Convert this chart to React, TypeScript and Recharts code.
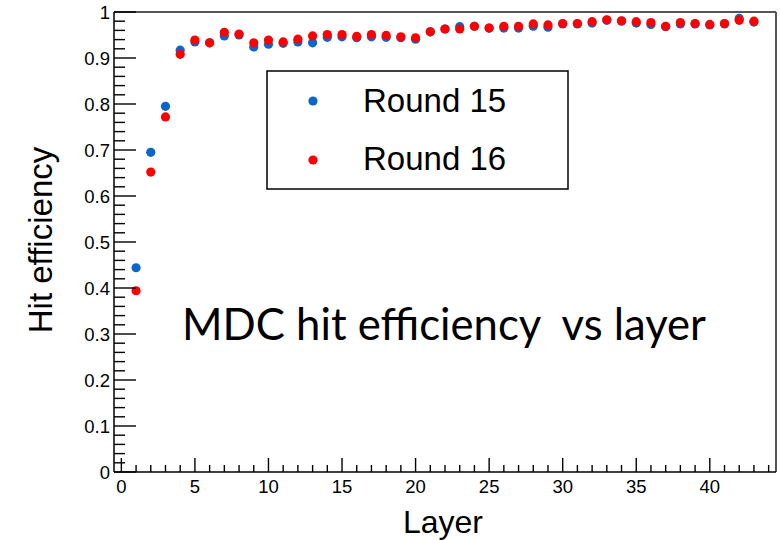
import React from 'react';
import { ScatterChart, Scatter, XAxis, YAxis, ReferenceLine } from 'recharts';

// ---- data ----
const layers = [1, 2, 3, 4, 5, 6, 7, 8, 9, 10, 11, 12, 13, 14, 15, 16, 17, 18, 19, 20, 21, 22, 23, 24, 25, 26, 27, 28, 29, 30, 31, 32, 33, 34, 35, 36, 37, 38, 39, 40, 41, 42, 43];
const round15 = [0.444, 0.695, 0.795, 0.917, 0.935, 0.933, 0.948, 0.95, 0.924, 0.93, 0.932, 0.935, 0.933, 0.945, 0.946, 0.944, 0.946, 0.945, 0.944, 0.941, 0.957, 0.963, 0.968, 0.969, 0.965, 0.965, 0.965, 0.969, 0.967, 0.974, 0.974, 0.976, 0.982, 0.98, 0.976, 0.973, 0.968, 0.974, 0.974, 0.972, 0.974, 0.986, 0.978];
const round16 = [0.394, 0.652, 0.772, 0.908, 0.939, 0.933, 0.956, 0.952, 0.933, 0.939, 0.935, 0.941, 0.948, 0.951, 0.951, 0.947, 0.951, 0.949, 0.946, 0.944, 0.957, 0.963, 0.963, 0.969, 0.965, 0.969, 0.969, 0.974, 0.972, 0.975, 0.975, 0.979, 0.983, 0.981, 0.979, 0.977, 0.969, 0.977, 0.975, 0.973, 0.975, 0.982, 0.98];
const seriesNames = ['Round 15', 'Round 16'];
const xTickLabels = [0, 5, 10, 15, 20, 25, 30, 35, 40];
const yTickLabels = [0, 0.1, 0.2, 0.3, 0.4, 0.5, 0.6, 0.7, 0.8, 0.9, 1];
const xTitle = 'Layer';
const yTitle = 'Hit efficiency';
const annotation = 'MDC hit efficiency  vs layer';

// ---- layout ----
const W = 780;
const H = 540;
const PLOT_L = 114;
const PLOT_T = 12;
const PLOT_B = 472;
const X_DOMAIN: [number, number] = [-0.5, 44.5];
const Y_DOMAIN: [number, number] = [0, 1];
const BLUE = '#0a66cc';
const RED = '#ff0000';
const FONT = '"Liberation Sans", Arial, Helvetica, sans-serif';

const xAllTicks = Array.from({ length: 45 }, (_, i) => i);
const yAllTicks = Array.from({ length: 51 }, (_, i) => Number((i * 0.02).toFixed(2)));

const data15 = layers.map((l, i) => ({ layer: l, eff: round15[i] }));
const data16 = layers.map((l, i) => ({ layer: l, eff: round16[i] }));

const isMajorX = (v: number) => xTickLabels.includes(v);
const isMajorY = (v: number) => yTickLabels.some((t) => Math.abs(t - v) < 1e-6);

const XTick = (props: any) => {
  const { x, payload } = props;
  const v = payload.value;
  const major = isMajorX(v);
  return (
    <g>
      <line x1={x} x2={x} y1={PLOT_B} y2={PLOT_B - (major ? 14 : 7)} stroke="#000" strokeWidth={1.4} />
      {major && (
        <text x={x} y={493} textAnchor="middle" fontFamily={FONT} fontSize={18.5} fill="#000">
          {String(v)}
        </text>
      )}
    </g>
  );
};

const YTick = (props: any) => {
  const { y, payload } = props;
  const v = payload.value;
  const major = isMajorY(v);
  return (
    <g>
      <line x1={PLOT_L} x2={PLOT_L + (major ? 22 : 11)} y1={y} y2={y} stroke="#000" strokeWidth={1.4} />
      {major && (
        <text x={110} y={y} dy={6.5} textAnchor="end" fontFamily={FONT} fontSize={18.5} fill="#000">
          {String(Number(v.toFixed(1)))}
        </text>
      )}
    </g>
  );
};

const dot = (color: string) => (props: any) => (
  <circle cx={props.cx} cy={props.cy} r={4.6} fill={color} />
);

export default function App() {
  return (
    <div style={{ position: 'absolute', left: 0, top: 0, width: W, height: H, background: '#fff' }}>
      <ScatterChart width={W} height={H} margin={{ top: PLOT_T, right: 4, left: 0, bottom: 0 }}>
        <XAxis
          type="number"
          dataKey="layer"
          domain={X_DOMAIN}
          ticks={xAllTicks}
          interval={0}
          height={68}
          tickLine={false}
          tick={(p: any) => <XTick {...p} />}
          axisLine={{ stroke: '#000', strokeWidth: 1.5 }}
        />
        <YAxis
          type="number"
          dataKey="eff"
          domain={Y_DOMAIN}
          ticks={yAllTicks}
          interval={0}
          width={PLOT_L}
          tickLine={false}
          tick={(p: any) => <YTick {...p} />}
          axisLine={{ stroke: '#000', strokeWidth: 1.5 }}
        />
        <ReferenceLine y={1} stroke="#555" strokeWidth={2} />
        <ReferenceLine x={44.5} stroke="#555" strokeWidth={2} />
        <Scatter name={seriesNames[0]} data={data15} fill={BLUE} shape={dot(BLUE)} isAnimationActive={false} />
        <Scatter name={seriesNames[1]} data={data16} fill={RED} shape={dot(RED)} isAnimationActive={false} />
      </ScatterChart>
      <svg width={W} height={H} style={{ position: 'absolute', left: 0, top: 0, pointerEvents: 'none' }}>
        <rect x={267} y={71} width={301} height={118} fill="#fff" stroke="#000" strokeWidth={1.5} />
        <circle cx={313} cy={101} r={4.6} fill={BLUE} />
        <circle cx={313} cy={160} r={4.6} fill={RED} />
        <text x={363} y={112} fontFamily={FONT} fontSize={33} fill="#000">{seriesNames[0]}</text>
        <text x={363} y={170} fontFamily={FONT} fontSize={33} fill="#000">{seriesNames[1]}</text>
        <text x={182} y={340} fontFamily="Lato, 'Open Sans', sans-serif" fontSize={44} fill="#000" textLength={524} lengthAdjust="spacingAndGlyphs" style={{ whiteSpace: 'pre' }}>
          {annotation}
        </text>
        <text x={52} y={240} transform="rotate(-90, 52, 240)" textAnchor="middle" fontFamily={FONT} fontSize={33} fill="#000">
          {yTitle}
        </text>
        <text x={443} y={533} textAnchor="middle" fontFamily={FONT} fontSize={32} fill="#000">
          {xTitle}
        </text>
      </svg>
    </div>
  );
}
